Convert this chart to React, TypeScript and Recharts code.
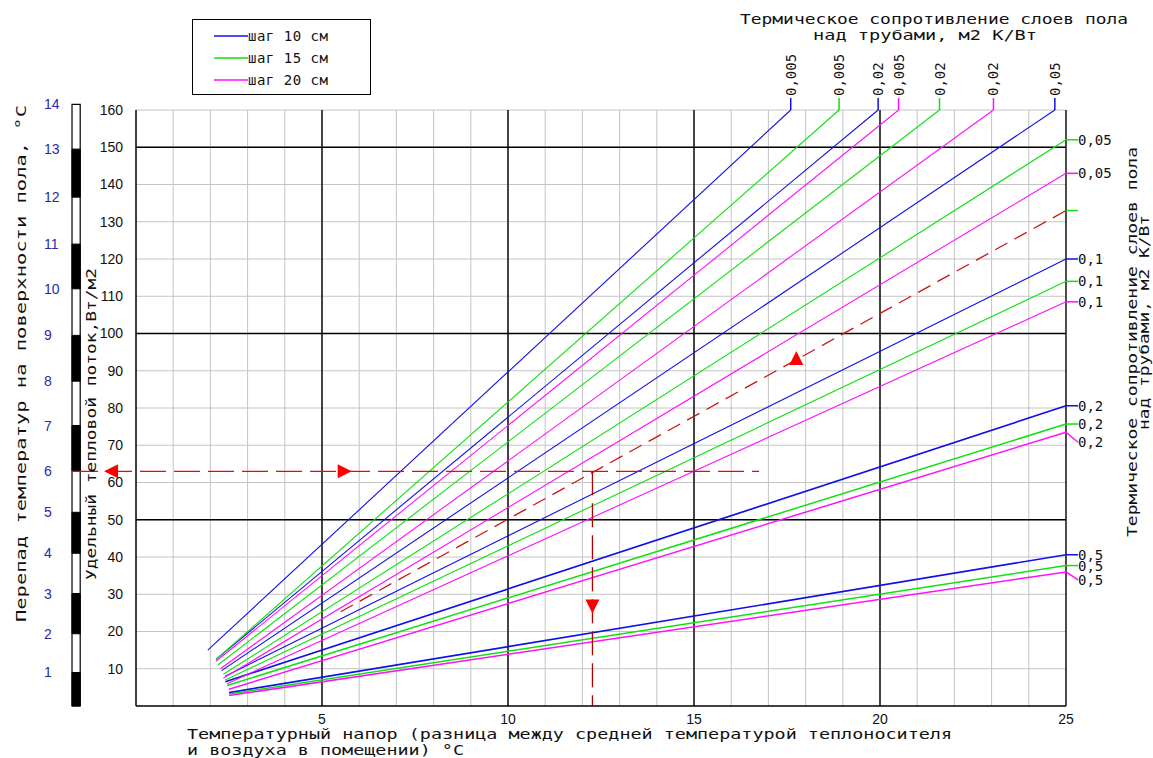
import React from 'react';
import {
  LineChart, Line, XAxis, YAxis, CartesianGrid, ReferenceLine, ReferenceArea, ReferenceDot, Legend,
} from 'recharts';

const W = 1153;
const H = 758;
const MONO = '"DejaVu Sans Mono", monospace';
const SANS = '"Liberation Sans", Arial, sans-serif';

const BLUE = '#1010e8';
const GREEN = '#10e010';
const MAGENTA = '#ff10ff';

// термическое сопротивление слоёв пола над трубами, м2 К/Вт
const resistances = ['0,005', '0,02', '0,05', '0,1', '0,2', '0,5'];

// каждая линия: начало и конец [температурный напор, тепловой поток]
const step10 = [
  [[1.93, 15.0], [17.6, 160]],
  [[2.15, 12.5], [19.95, 160]],
  [[2.3, 9.5], [24.7, 160]],
  [[2.4, 8.0], [25, 120]],
  [[2.4, 6.5], [25, 80.6]],
  [[2.5, 3.6], [25, 40.6]],
];
const step15 = [
  [[2.15, 12.5], [18.9, 160]],
  [[2.2, 11.0], [21.6, 160]],
  [[2.35, 8.5], [25, 152]],
  [[2.4, 7.0], [25, 114]],
  [[2.45, 5.5], [25, 75.7]],
  [[2.5, 3.2], [25, 37.7]],
];
const step20 = [
  [[2.15, 12.0], [20.5, 160]],
  [[2.27, 10.0], [23.05, 160]],
  [[2.35, 7.5], [25, 143]],
  [[2.45, 6.0], [25, 108.5]],
  [[2.5, 4.5], [25, 73.5]],
  [[2.5, 2.8], [25, 36]],
];

// пример подбора (красные пунктиры)
const exampleLine = [[5.5, 25.3], [25, 133]];
const exampleFlux = 63;
const exampleDeltaT = 12.27;

const legendItems = ['шаг 10 см', 'шаг 15 см', 'шаг 20 см'];
const legendColors = [BLUE, GREEN, MAGENTA];

const xTicks = [5, 10, 15, 20, 25];
const xMinor = Array.from({ length: 24 }, (_, i) => i + 1);
const xMajor = [5, 10, 15, 20, 25];
const yTicks = [10, 20, 30, 40, 50, 60, 70, 80, 90, 100, 110, 120, 130, 140, 150, 160];
const yMajor = [50, 100, 150];

// перепад температур на поверхности пола (0..14 °С) на шкале теплового потока
const surfaceScale = [0, 9, 19.4, 30.2, 41, 52, 63.1, 75.3, 87.2, 99.5, 112, 124, 136.6, 149.5, 161.5];

// сдвиг подписей, которые в оригинале отогнуты вниз
const labelShift: Record<string, number> = { m4: 10, m5: 8 };

const toPts = (pairs: number[][]) => pairs.map(([x, y]) => ({ x, y }));

const series = [
  ...step10.map((p, i) => ({ id: `b${i}`, color: BLUE, label: resistances[i], width: i >= 4 ? 1.7 : 1.1, data: toPts(p) })),
  ...step15.map((p, i) => ({ id: `g${i}`, color: GREEN, label: resistances[i], width: i >= 4 ? 1.5 : 1.1, data: toPts(p) })),
  ...step20.map((p, i) => ({ id: `m${i}`, color: MAGENTA, label: resistances[i], width: i >= 4 ? 1.5 : 1.1, data: toPts(p) })),
];

const endLabel = (s: { id: string; color: string; label: string; data: { x: number; y: number }[] }) => (p: any) => {
  if (p.index !== s.data.length - 1) return null;
  const x = Number(p.x);
  const y = Number(p.y);
  const last = s.data[s.data.length - 1];
  if (last.x < 25) {
    return (
      <g key={`lbl-${s.id}`}>
        <line x1={x} y1={y} x2={x} y2={y - 12} stroke={s.color} strokeWidth={1.5} />
        <text transform={`translate(${x + 5},${y - 14}) rotate(-90)`} fontSize={14} fontFamily={MONO} fill="#111">
          {s.label}
        </text>
      </g>
    );
  }
  const dy = labelShift[s.id] ?? 0;
  return (
    <g key={`lbl-${s.id}`}>
      <line x1={x} y1={y} x2={x + 12} y2={y + dy} stroke={s.color} strokeWidth={1.5} />
      {s.label && (
        <text x={x + 12} y={y + dy + 5} fontSize={14} fontFamily={MONO} fill="#111">
          {s.label}
        </text>
      )}
    </g>
  );
};

const SurfaceTick = (p: any) => {
  const t = surfaceScale.indexOf(p.payload.value);
  return (
    <text x={44} y={p.y + 5} fontSize={14} fontFamily={SANS} fill="#2a2aa8">
      {t}
    </text>
  );
};

const triangle = (dir: 'up' | 'down' | 'left' | 'right') => (p: any) => {
  const { cx, cy } = p;
  const s = 7;
  let pts = '';
  if (dir === 'up') pts = `${cx},${cy - s} ${cx - s},${cy + s} ${cx + s},${cy + s}`;
  if (dir === 'down') pts = `${cx},${cy + s} ${cx - s},${cy - s} ${cx + s},${cy - s}`;
  if (dir === 'left') pts = `${cx - s},${cy} ${cx + s},${cy - s} ${cx + s},${cy + s}`;
  if (dir === 'right') pts = `${cx + s},${cy} ${cx - s},${cy - s} ${cx - s},${cy + s}`;
  return <polygon points={pts} fill="#ff0000" />;
};

const renderLegend = () => (
  <div style={{ width: 177, height: 74, border: '1.5px solid #000', background: '#fff', boxSizing: 'content-box' }}>
    {legendItems.map((name, i) => (
      <div key={name} style={{ display: 'flex', alignItems: 'center', height: 22, marginTop: i === 0 ? 5 : 0, paddingLeft: 21 }}>
        <svg width={34} height={4}><line x1={0} y1={2} x2={34} y2={2} stroke={legendColors[i]} strokeWidth={1.5} /></svg>
        <span style={{ fontFamily: MONO, fontSize: 14, color: '#111', letterSpacing: 0.5 }}>{name}</span>
      </div>
    ))}
  </div>
);

export default function App() {
  return (
    <div style={{ position: 'absolute', left: 0, top: 0, width: W, height: H, background: '#fff' }}>
      <LineChart width={W} height={H} margin={{ top: 110, right: 87, bottom: 30, left: 10 }}>
        <CartesianGrid stroke="#c4c4c4" strokeWidth={1} verticalValues={xMinor} horizontalValues={yTicks} />
        <XAxis
          dataKey="x" type="number" domain={[0, 25]} ticks={xTicks} interval={0} height={22}
          tickLine={false} axisLine={{ stroke: '#000', strokeWidth: 1.5 }} tickMargin={2}
          tick={{ fontSize: 14, fill: '#111', fontFamily: SANS }}
        />
        <YAxis
          type="number" domain={[0, 160]} ticks={yTicks} interval={0} width={50}
          tickLine={false} axisLine={{ stroke: '#000', strokeWidth: 1.5 }} tickMargin={7}
          tick={{ fontSize: 14, fill: '#111', fontFamily: SANS }}
        />
        <YAxis
          yAxisId="t" type="number" domain={[0, 160]} ticks={surfaceScale.slice(1)} interval={0} width={76}
          allowDataOverflow tickLine={false} axisLine={false} tick={<SurfaceTick />}
        />
        {xMajor.map((v) => (
          <ReferenceLine key={`vx${v}`} x={v} stroke="#000" strokeWidth={1.4} />
        ))}
        {yMajor.map((v) => (
          <ReferenceLine key={`hy${v}`} y={v} stroke="#000" strokeWidth={1.4} />
        ))}
        <ReferenceArea x1={-1.72} x2={-1.5} y1={0} y2={surfaceScale[14]} fill="#fff" fillOpacity={1} stroke="#000" strokeWidth={1.2} ifOverflow="visible" />
        {[0, 2, 4, 6, 8, 10, 12].map((t) => (
          <ReferenceArea key={`seg${t}`} x1={-1.72} x2={-1.5} y1={surfaceScale[t]} y2={surfaceScale[t + 1]} fill="#000" fillOpacity={1} stroke="#000" ifOverflow="visible" />
        ))}
        {series.map((s) => (
          <Line
            key={s.id} data={s.data} dataKey="y" type="linear" stroke={s.color} strokeWidth={s.width}
            dot={false} activeDot={false} isAnimationActive={false} label={endLabel(s)}
          />
        ))}
        <Line
          data={toPts(exampleLine)} dataKey="y" type="linear" stroke="#cc1515" strokeWidth={1.3} strokeDasharray="14 8"
          dot={false} activeDot={false} isAnimationActive={false}
          label={endLabel({ id: 'ex', color: GREEN, label: '', data: toPts(exampleLine) })}
        />
        <ReferenceLine
          segment={[{ x: -1.72, y: exampleFlux }, { x: 16.75, y: exampleFlux }]}
          stroke="#ff0000" strokeWidth={1.3} strokeDasharray="26 8" ifOverflow="visible"
        />
        <ReferenceLine
          segment={[{ x: exampleDeltaT, y: exampleFlux }, { x: exampleDeltaT, y: 0 }]}
          stroke="#b00000" strokeWidth={1.3} strokeDasharray="24 8" ifOverflow="visible"
        />
        <ReferenceDot x={-0.67} y={exampleFlux} r={7} ifOverflow="visible" shape={triangle('left')} />
        <ReferenceDot x={5.61} y={exampleFlux} r={7} ifOverflow="visible" shape={triangle('right')} />
        <ReferenceDot x={17.75} y={93.4} r={7} ifOverflow="visible" shape={triangle('up')} />
        <ReferenceDot x={exampleDeltaT} y={26.7} r={7} ifOverflow="visible" shape={triangle('down')} />
        <Legend
          verticalAlign="middle" align="center" layout="horizontal" content={renderLegend}
          wrapperStyle={{ position: 'absolute', left: 192, top: 19, width: 181, height: 78 }}
        />
      </LineChart>
      <svg width={W} height={H} style={{ position: 'absolute', left: 0, top: 0, pointerEvents: 'none' }}>
        <g fontFamily={MONO} fontSize={14} fill="#111">
          <text x={740} y={24} textLength={388} lengthAdjust="spacingAndGlyphs">Термическое сопротивление слоев пола</text>
          <text x={813} y={40} textLength={224} lengthAdjust="spacingAndGlyphs">над трубами, м2 К/Вт</text>
          <text transform="translate(1137,537) rotate(-90)" textLength={390} lengthAdjust="spacingAndGlyphs">Термическое сопротивление слоев пола</text>
          <text transform="translate(1149,430) rotate(-90)" textLength={215} lengthAdjust="spacingAndGlyphs">над трубами, м2 К/Вт</text>
          <text transform="translate(26,622) rotate(-90)" textLength={517} lengthAdjust="spacingAndGlyphs">Перепад температур на поверхности пола,  °С</text>
          <text transform="translate(96,580) rotate(-90)" textLength={312} lengthAdjust="spacingAndGlyphs">Удельный тепловой поток,Вт/м2</text>
          <text x={187} y={739} textLength={765} lengthAdjust="spacingAndGlyphs">Температурный напор (разница между средней температурой теплоносителя</text>
          <text x={187} y={755} textLength={277} lengthAdjust="spacingAndGlyphs">и воздуха в помещении) °С</text>
        </g>
      </svg>
    </div>
  );
}
